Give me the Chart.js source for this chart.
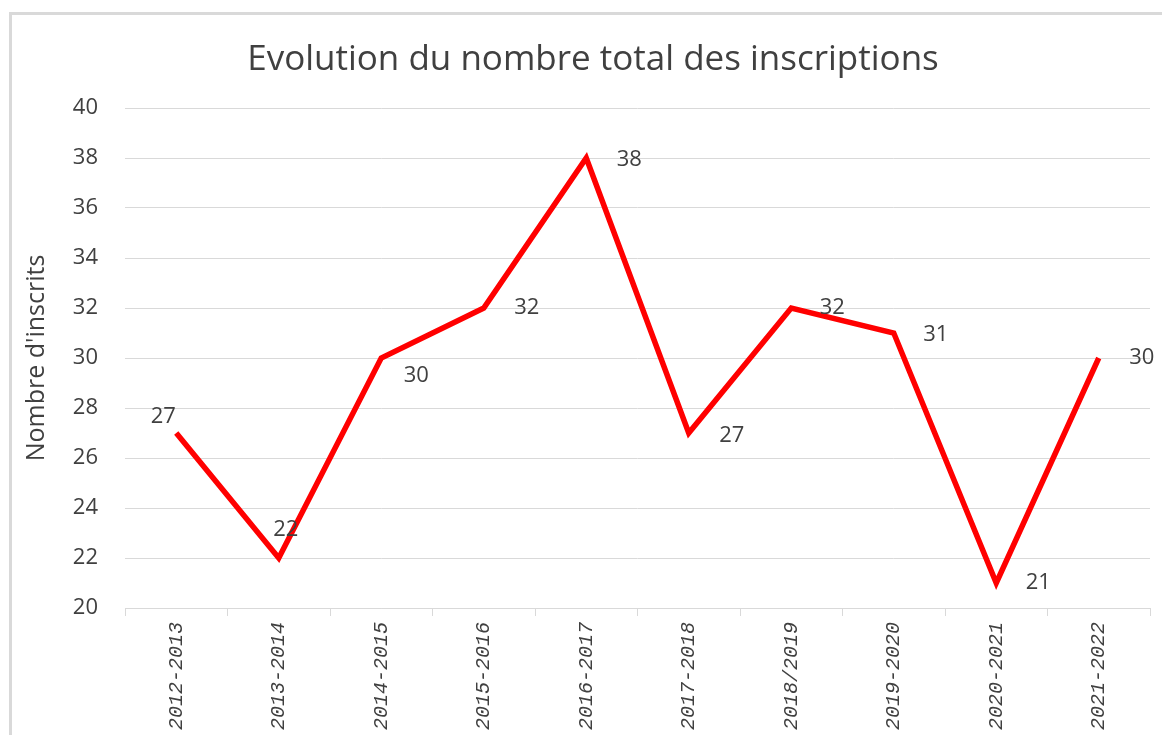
<!DOCTYPE html>
<html lang="fr">
<head>
    <meta charset="UTF-8">
    <title>Evolution du nombre total des inscriptions</title>
    <style>
        body {
            margin: 0;
            padding: 0;
            background: #fff;
            overflow: hidden;
        }

        #frame {
            position: absolute;
            left: 9px;
            top: 12px;
            width: 1200px;
            height: 800px;
            border-left: 3px solid #d9d9d9;
            border-top: 3px solid #d9d9d9;
        }

        #chartBox {
            position: absolute;
            left: 0;
            top: 0;
            width: 1162px;
            height: 735px;
        }
    </style>
</head>
<body>
    <div id="frame"></div>
    <div id="chartBox">
        <canvas id="lineChart"></canvas>
    </div>

    <script src="https://cdn.jsdelivr.net/npm/chart.js"></script>
    <script>
        const years = ["2012-2013", "2013-2014", "2014-2015", "2015-2016", "2016-2017",
                       "2017-2018", "2018/2019", "2019-2020", "2020-2021", "2021-2022"];
        const inscrits = [27, 22, 30, 32, 38, 27, 32, 31, 21, 30];
        const chartTitle = 'Evolution du nombre total des inscriptions';

        const textColor = '#404040';

        // Title drawn by hand (it sits a bit right of the canvas centre) + point values
        const valueLabels = {
            id: 'valueLabels',
            afterDatasetsDraw(chart, args, opts) {
                const ctx = chart.ctx;
                const meta = chart.getDatasetMeta(0);
                ctx.save();
                ctx.fillStyle = opts.color;
                ctx.textAlign = 'center';
                ctx.textBaseline = 'middle';

                ctx.font = opts.titleFont;
                ctx.fillText(chartTitle, opts.titleX, opts.titleY);

                ctx.font = opts.font;
                meta.data.forEach((pt, i) => {
                    const off = opts.offsets[i] || [40, 0];
                    ctx.fillText(chart.data.datasets[0].data[i], pt.x + off[0], pt.y + off[1]);
                });
                ctx.restore();
            }
        };

        const ctx = document.getElementById('lineChart').getContext('2d');
        new Chart(ctx, {
            type: 'line',
            data: {
                labels: years,
                datasets: [{
                    data: inscrits,
                    borderColor: '#ff0000',
                    borderWidth: 5.5,
                    pointRadius: 0,
                    tension: 0,
                    borderJoinStyle: 'miter'
                }]
            },
            plugins: [valueLabels],
            options: {
                responsive: true,
                maintainAspectRatio: false,
                animation: false,
                layout: {
                    padding: { top: 108, right: 12, bottom: 0, left: 0 }
                },
                plugins: {
                    legend: { display: false },
                    tooltip: { enabled: false },
                    title: { display: false },
                    valueLabels: {
                        titleFont: '35px "Open Sans"',
                        titleX: 593,
                        titleY: 60,
                        font: '22px "Open Sans"',
                        color: textColor,
                        offsets: [[-13, -16], [7, -28], [35, 18], [43, 0], [43, 2],
                                  [43, 3], [41, 0], [42, 2], [42, 0], [43, 0]]
                    }
                },
                scales: {
                    x: {
                        offset: true,
                        grid: {
                            offset: true,
                            drawOnChartArea: false,
                            drawTicks: true,
                            tickLength: 8,
                            color: '#d9d9d9'
                        },
                        border: { color: '#d9d9d9', width: 1 },
                        ticks: {
                            minRotation: 90,
                            maxRotation: 90,
                            padding: 6,
                            color: textColor,
                            font: { family: 'Liberation Mono', size: 20, style: 'italic' }
                        },
                        afterFit(scale) { scale.height = 127; }
                    },
                    y: {
                        min: 20,
                        max: 40,
                        ticks: {
                            stepSize: 2,
                            padding: 27,
                            color: textColor,
                            font: { family: 'Open Sans', size: 22 }
                        },
                        grid: { color: '#d9d9d9', drawTicks: false },
                        border: { display: false },
                        title: {
                            display: true,
                            text: "Nombre d'inscrits",
                            color: textColor,
                            font: { family: 'Open Sans', size: 25 },
                            padding: { top: 22, bottom: 0 }
                        },
                        afterFit(scale) { scale.width = 125; }
                    }
                }
            }
        });
    </script>
</body>
</html>
